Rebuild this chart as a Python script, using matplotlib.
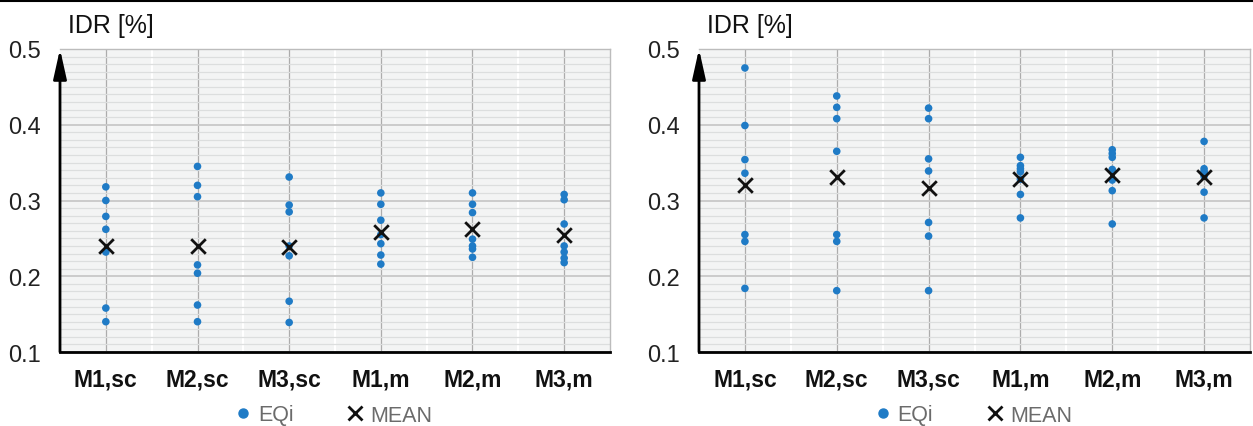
import matplotlib
matplotlib.use("Agg")
import matplotlib.pyplot as plt
import numpy as np
from matplotlib.lines import Line2D

categories = ["M1,sc", "M2,sc", "M3,sc", "M1,m", "M2,m", "M3,m"]

# EQi values, left panel (one list per category)
left_eq = [
    [0.318, 0.300, 0.279, 0.262, 0.232, 0.158, 0.140],
    [0.345, 0.320, 0.305, 0.215, 0.204, 0.162, 0.140],
    [0.331, 0.294, 0.285, 0.240, 0.227, 0.167, 0.139],
    [0.310, 0.295, 0.274, 0.255, 0.243, 0.228, 0.216],
    [0.310, 0.295, 0.284, 0.249, 0.240, 0.236, 0.225],
    [0.308, 0.301, 0.269, 0.240, 0.232, 0.224, 0.218],
]
left_mean = [0.240, 0.240, 0.239, 0.259, 0.262, 0.255]

# EQi values, right panel
right_eq = [
    [0.475, 0.399, 0.354, 0.336, 0.255, 0.246, 0.184],
    [0.438, 0.423, 0.408, 0.365, 0.255, 0.246, 0.181],
    [0.422, 0.408, 0.355, 0.339, 0.271, 0.253, 0.181],
    [0.357, 0.346, 0.342, 0.338, 0.328, 0.308, 0.277],
    [0.367, 0.362, 0.357, 0.341, 0.327, 0.313, 0.269],
    [0.378, 0.342, 0.338, 0.337, 0.332, 0.311, 0.277],
]
right_mean = [0.320, 0.331, 0.317, 0.328, 0.334, 0.331]

y_ticks = [0.1, 0.2, 0.3, 0.4, 0.5]
y_label = "IDR [%]"

BLUE = "#1f7bc6"
FONT = "Liberation Sans"

W, H = 1253, 427
fig = plt.figure(figsize=(W / 100, H / 100), dpi=100)


def px(x0, y0, x1, y1):
    return [x0 / W, 1 - y1 / H, (x1 - x0) / W, (y1 - y0) / H]


def panel(rect, eq, means, label_x):
    ax = fig.add_axes(rect)
    ax.set_facecolor("#f3f4f4")
    n = len(categories)
    ax.set_xlim(-0.5, n - 0.5)
    ax.set_ylim(0.1, 0.5)
    # grid
    ax.set_yticks(y_ticks)
    ax.set_yticks(np.arange(0.1, 0.5, 0.01), minor=True)
    ax.set_xticks(range(n))
    ax.set_xticks(np.arange(0.5, n - 0.5, 1), minor=True)
    ax.grid(which="minor", axis="y", color="#dcdede", lw=0.9)
    ax.grid(which="major", axis="y", color="#c8c8c8", lw=1.3)
    ax.grid(which="minor", axis="x", color="white", lw=1.5)
    ax.grid(which="major", axis="x", color="#acacac", lw=0.9)
    ax.set_axisbelow(True)

    for i, vals in enumerate(eq):
        ax.scatter([i] * len(vals), vals, s=30, color=BLUE, zorder=3,
                   edgecolors="none")
    ax.scatter(range(n), means, marker="x", s=110, color="#111111",
               linewidths=2.0, zorder=4)

    ax.set_xticklabels(categories, fontfamily=FONT, fontweight="bold",
                       fontsize=16.5, color="#111111")
    ax.set_yticklabels([f"{v:.1f}" for v in y_ticks], fontfamily=FONT,
                       fontsize=17, color="#222222")
    ax.tick_params(axis="x", which="both", length=0, pad=11)
    ax.tick_params(axis="y", which="both", length=0, pad=14)

    for s in ["top", "right"]:
        ax.spines[s].set_color("#bcbcbc")
        ax.spines[s].set_linewidth(1.0)
    ax.spines["bottom"].set_color("black")
    ax.spines["bottom"].set_linewidth(2.0)
    ax.spines["left"].set_visible(False)
    ax.annotate("", xy=(0, 1.0), xytext=(0, 0), xycoords="axes fraction",
                arrowprops=dict(arrowstyle="-|>,head_length=0.9,head_width=0.2",
                                color="black", lw=2.0, shrinkA=0, shrinkB=0,
                                mutation_scale=20),
                annotation_clip=False, zorder=6)

    fig.text(label_x / W, 1 - 26 / H, y_label, fontfamily=FONT, fontsize=18,
             va="center", ha="left", color="#111111")

    handles = [
        Line2D([], [], ls="none", marker="o", color=BLUE, markersize=6.5),
        Line2D([], [], ls="none", marker="x", color="#111111",
               markersize=10, markeredgewidth=2),
    ]
    leg = ax.legend(handles, ["EQi", "MEAN"], loc="center",
                    bbox_to_anchor=(0.5, -63 / 303), ncol=2, frameon=False,
                    handlelength=0.5, handletextpad=0.45, columnspacing=2.6,
                    prop={"family": FONT, "size": 15.5})
    for t in leg.get_texts():
        t.set_color("#6b6b6b")
    return ax


panel(px(60, 50, 610, 353), left_eq, left_mean, 68)
panel(px(699, 50, 1250, 353), right_eq, right_mean, 707)

fig.add_artist(Line2D([0, 1], [1 - 2 / H, 1 - 2 / H], color="black", lw=1.5,
                      transform=fig.transFigure))

fig.savefig("out.png", dpi=100)
